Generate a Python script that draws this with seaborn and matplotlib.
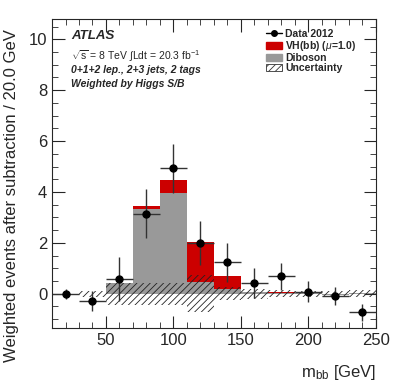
import seaborn as sns
import numpy as np
import matplotlib.pyplot as plt
import pandas as pd
from matplotlib.patches import Patch
from matplotlib.lines import Line2D

# binning (GeV) and values
bin_edges = [10, 30, 50, 70, 90, 110, 130, 150, 170, 190, 210, 230, 250]
bin_centers = [20, 40, 60, 80, 100, 120, 140, 160, 180, 200, 220, 240]
data_2012 = [0.0, -0.28, 0.58, 3.15, 4.93, 2.0, 1.23, 0.42, 0.68, 0.08, -0.10, -0.73]
data_err = [0.2, 0.4, 0.86, 0.95, 0.97, 0.86, 0.77, 0.6, 0.53, 0.4, 0.36, 0.33]
diboson = [0.0, 0.0, 0.40, 3.33, 3.96, 0.46, 0.18, 0.05, 0.04, 0.08, -0.04, 0.03]
vh_bb = [0.0, 0.0, 0.03, 0.11, 0.50, 1.57, 0.53, 0.03, 0.01, 0.0, 0.0, 0.0]
uncert = [0.0, 0.12, 0.43, 0.43, 0.43, 0.72, 0.25, 0.2, 0.15, 0.12, 0.12, 0.15]

vh_name = "VH(bb) ($\\mu$=1.0)"
df = pd.DataFrame({
    "mbb": bin_centers * 2,
    "w": diboson + vh_bb,
    "proc": ["Diboson"] * len(diboson) + [vh_name] * len(vh_bb),
})

sns.set_style("ticks")
plt.rcParams["font.family"] = ["Liberation Sans", "DejaVu Sans"]
plt.rcParams["mathtext.fontset"] = "custom"
plt.rcParams["mathtext.rm"] = "Liberation Sans"
plt.rcParams["mathtext.it"] = "Liberation Sans:italic"
plt.rcParams["hatch.linewidth"] = 0.6

fig, ax = plt.subplots(figsize=(4.07, 3.91), dpi=100)
fig.subplots_adjust(left=52 / 407, right=376 / 407, top=1 - 19 / 391, bottom=1 - 328 / 391)

sns.histplot(data=df, x="mbb", weights="w", hue="proc", bins=bin_edges,
             multiple="stack", hue_order=[vh_name, "Diboson"],
             palette={vh_name: "#cc0000", "Diboson": "#999999"},
             element="bars", alpha=1, linewidth=0, legend=False, ax=ax)

# uncertainty band around zero
unc = np.array(uncert)
ax.bar(bin_centers, 2 * unc, width=20, bottom=-unc, fill=False, hatch="/////",
       edgecolor="#222222", linewidth=0)

ax.errorbar(bin_centers, data_2012, yerr=data_err, xerr=10, fmt="o", color="black",
            ecolor="#333333", elinewidth=1, markersize=5, capsize=0)

ax.set_xlim(10, 250)
ax.set_ylim(-1.35, 10.8)
ax.set_xticks([50, 100, 150, 200, 250])
ax.set_xticks(np.arange(10, 251, 10), minor=True)
ax.set_yticks([0, 2, 4, 6, 8, 10])
ax.set_yticks(np.arange(-1, 10.8, 0.5), minor=True)
ax.tick_params(which="both", direction="in", top=True, right=True, labelsize=12)
ax.tick_params(which="major", length=9)
ax.tick_params(which="minor", length=4.5)
ax.set_xlabel("")
ax.set_ylabel("")
fig.text(376 / 407, 1 - 372 / 391, r"m$_{\rm bb}$ [GeV]", ha="right", va="center", fontsize=12)
fig.text(12 / 407, 1 - 196 / 391, "Weighted events after subtraction / 20.0 GeV",
         rotation=90, ha="center", va="center", fontsize=12)

ax.text(0.058, 0.945, "ATLAS", transform=ax.transAxes, fontsize=9.5,
        fontweight="bold", style="italic", va="center")
ax.text(0.058, 0.88, r"$\sqrt{\rm s}$ = 8 TeV $\int$Ldt = 20.3 fb$^{-1}$",
        transform=ax.transAxes, fontsize=7.5, va="center")
ax.text(0.058, 0.836, "0+1+2 lep., 2+3 jets, 2 tags", transform=ax.transAxes,
        fontsize=7.5, fontweight="bold", style="italic", va="center")
ax.text(0.058, 0.789, "Weighted by Higgs S/B", transform=ax.transAxes,
        fontsize=7.5, fontweight="bold", style="italic", va="center")

handles = [
    Line2D([], [], color="black", marker="o", markersize=4, linewidth=1),
    Patch(facecolor="#cc0000", edgecolor="#cc0000"),
    Patch(facecolor="#999999", edgecolor="#999999"),
    Patch(facecolor="white", edgecolor="#333333", hatch="/////", linewidth=0.6),
]
labels = ["Data 2012", vh_name, "Diboson", "Uncertainty"]
ax.legend(handles, labels, loc="upper left", bbox_to_anchor=(0.645, 0.985), frameon=False,
          prop={"size": 7.5, "weight": "bold"}, handlelength=1.5, handleheight=0.7,
          handletextpad=0.35, labelspacing=0.0, borderpad=0)

fig.savefig("out.png", dpi=100)
plt.close()
